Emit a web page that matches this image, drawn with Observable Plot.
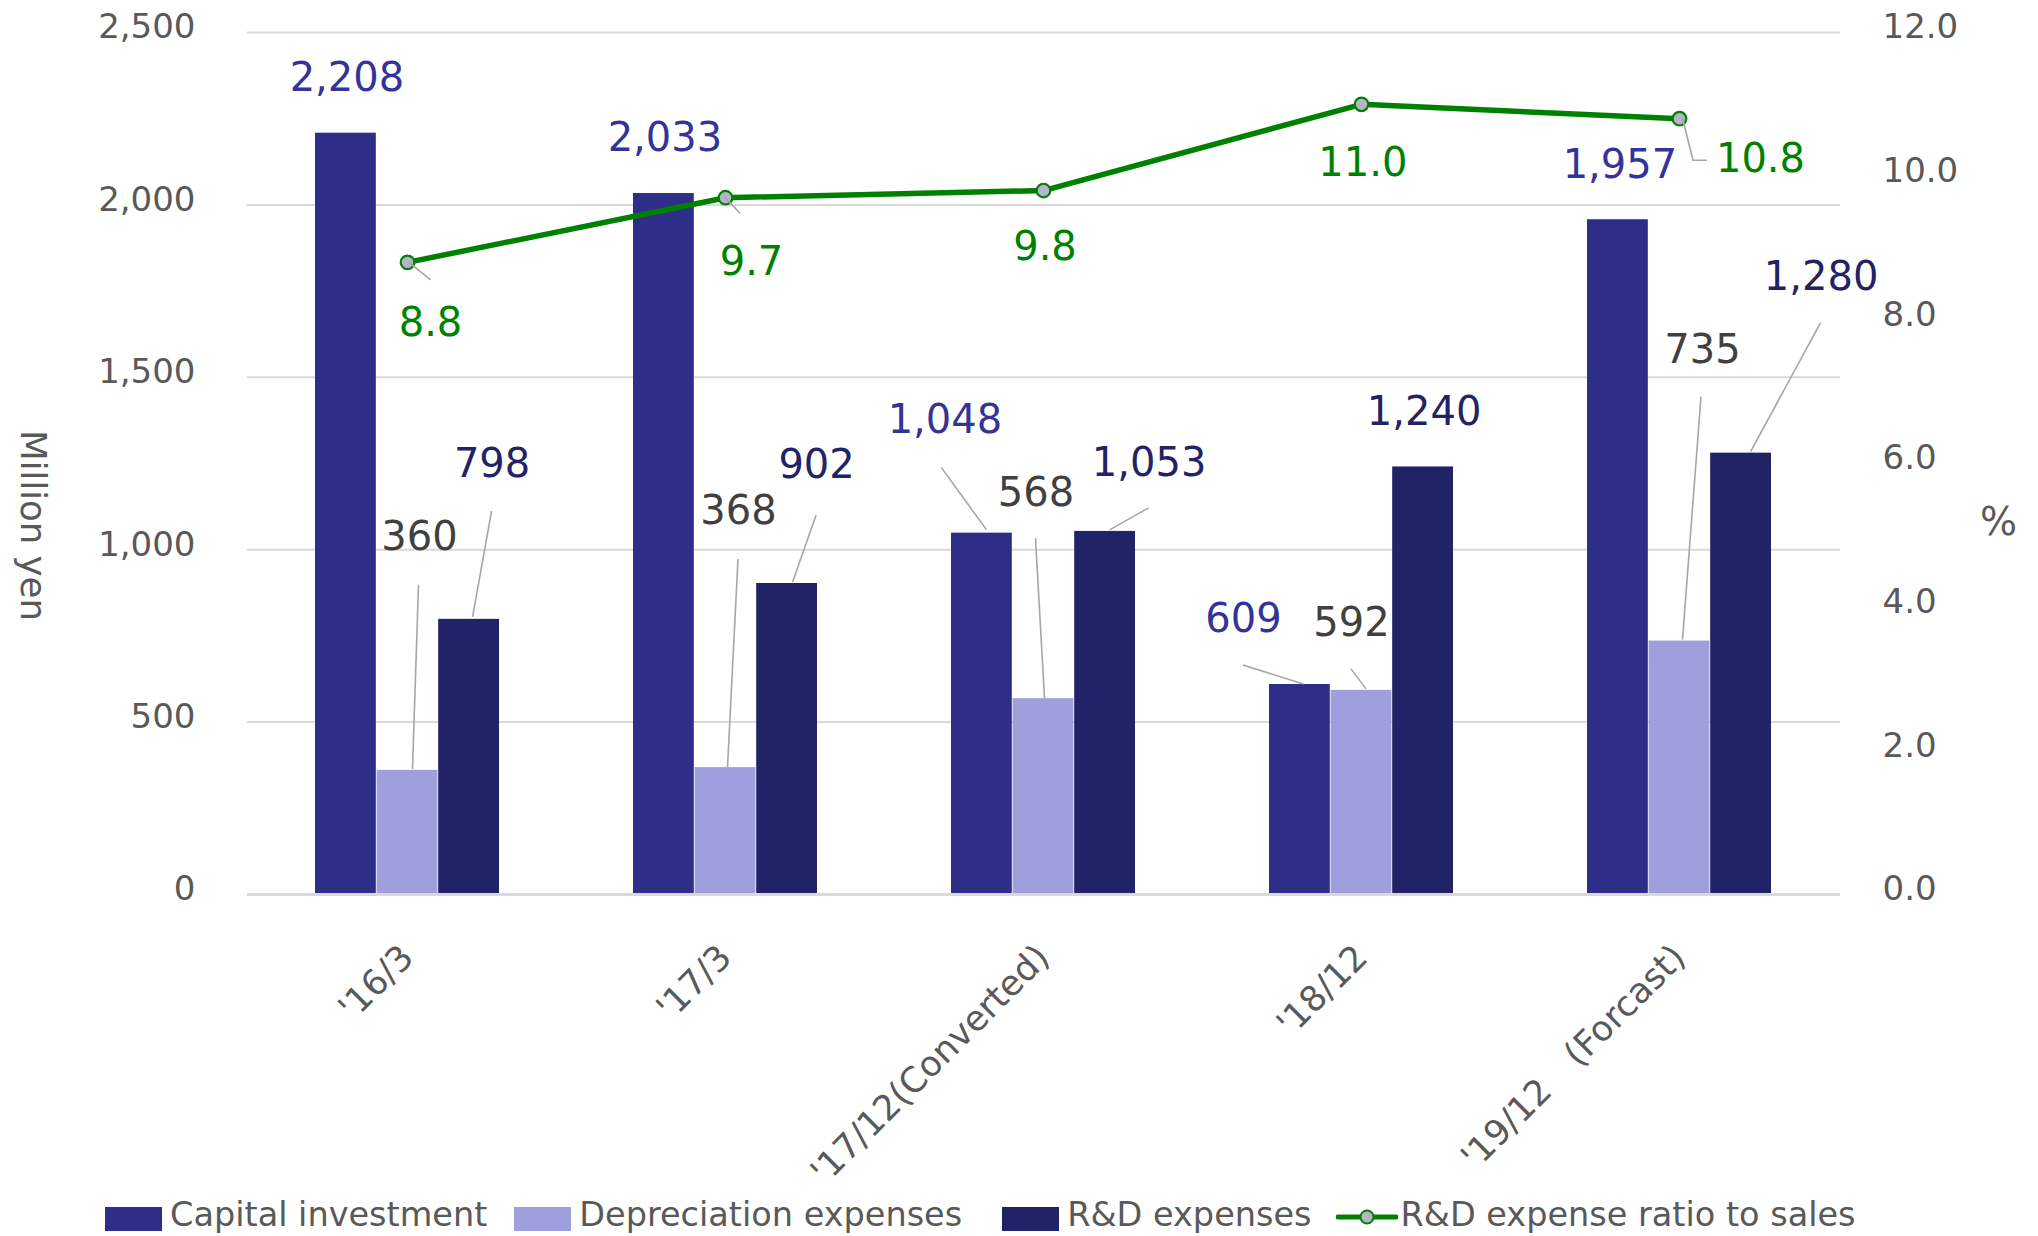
<!DOCTYPE html>
<html>
<head>
<meta charset="utf-8">
<script src="https://cdn.jsdelivr.net/npm/d3@7"></script>
<script src="https://cdn.jsdelivr.net/npm/@observablehq/plot@0.6"></script>
<style>
  html, body { margin: 0; padding: 0; background: #ffffff; }
  body { font-family: "DejaVu Sans", Verdana, sans-serif; }
  #wrap { position: relative; width: 2038px; height: 1236px; overflow: hidden; }
  #chart { position: absolute; left: 0; top: 0; }
  #legend { position: absolute; left: 105px; top: 1196px; height: 38px; display: flex; align-items: center;
            font-size: 33.5px; line-height: 34px; color: #595959; white-space: nowrap; }
  .item { display: flex; align-items: center; }
  .sw { width: 57px; height: 24px; margin-right: 8px; margin-top: 8px; }
  .ln { margin-right: 3px; margin-top: 3px; }
</style>
</head>
<body>
<div id="wrap"><div id="chart"></div><div id="legend"></div></div>
<script>
// ---------- data ----------
const categories = ["'16/3", "'17/3", "'17/12(Converted)", "'18/12", "'19/12\u3000(Forcast)"];
const capitalInvestment = [2208, 2033, 1048, 609, 1957];
const depreciationExpenses = [360, 368, 568, 592, 735];
const rdExpenses = [798, 902, 1053, 1240, 1280];
const rdRatioToSales = [8.8, 9.7, 9.8, 11.0, 10.8];
const leftTicks = [0, 500, 1000, 1500, 2000, 2500];
const rightTicks = [0, 2, 4, 6, 8, 10, 12];
const seriesNames = ["Capital investment", "Depreciation expenses", "R&D expenses", "R&D expense ratio to sales"];

// ---------- styles ----------
const colors = { cap: "#2E2E88", dep: "#9F9FDD", rd: "#222266", line: "#008000", dot: "#B4B4CC" };
const labelColors = { cap: "#333399", dep: "#404040", rd: "#222266", line: "#008000" };
const axisColor = "#595959", gridColor = "#D9D9D9", leaderColor = "#A6A6A6";

// annotation placement (pixel offsets from bar top / point)
const labelOffsets = {
  cap: [[1, -55], [1, -55], [-37, -113], [-56.5, -65], [2, -55]],
  dep: [[12, -233], [13, -256], [-7.5, -205], [-10, -67], [23, -291]],
  rd: [[23, -155], [29.5, -118], [44, -68], [1, -55], [80, -176]],
  line: [[23, 61], [26, 64], [1.5, 57], [1.3, 59], [81, 40]]
};
const leaders = {
  cap: [null, null, [[-40, -65], [5, -3]], [[-56.5, -19], [4, 0]], null],
  dep: [[[11.5, -185], [5.5, -1]], [[13, -208], [2.5, 0]], [[-7.5, -160], [1.5, 0]], [[-10, -21], [5, -1]], [[22, -244], [3.5, -1]]],
  rd: [[[23, -108], [4, -2]], [[29.5, -68], [6, -1]], [[44, -23], [5, -1]], null, [[80, -130], [10, -1]]],
  line: [[[1.5, 0], [23.5, 18]], [[0, 0], [15, 16]], null, null, [[3.5, 0], [14, 42], [28, 42]]]
};

// ---------- layout ----------
const W = 2038, H = 1190;
const mL = 247, mR = 198, mT = 32, mB = H - 894;
const padIn = 0.42, padOut = 0.21;
const step = (W - mL - mR) / (categories.length - padIn + 2 * padOut);
const third = step * (1 - padIn) / 3;

const rows = categories.map((c, i) => ({
  cat: c, cap: capitalInvestment[i], dep: depreciationExpenses[i], rd: rdExpenses[i], ratio: rdRatioToSales[i], i
}));
const y2 = d3.scaleLinear([0, 12], [0, 2500]);   // secondary axis mapped onto primary
const fmtInt = d3.format(",");
const fmtPct = d => d.toFixed(1);

const shifts = { cap: -1, dep: 0, rd: 1 };
const marks = [
  Plot.gridY(leftTicks, { stroke: gridColor, strokeWidth: 2, strokeOpacity: 1 }),
  Plot.barY(rows, { x: "cat", y: "cap", fill: colors.cap, insetRight: 2 * third }),
  Plot.barY(rows, { x: "cat", y: "dep", fill: colors.dep, insetLeft: third, insetRight: third }),
  Plot.barY(rows, { x: "cat", y: "rd", fill: colors.rd, insetLeft: 2 * third }),
  Plot.ruleY([0], { stroke: gridColor, strokeWidth: 3 }),
  Plot.line(rows, { x: "cat", y: d => y2(d.ratio), stroke: colors.line, strokeWidth: 5.5 }),
  Plot.dot(rows, { x: "cat", y: d => y2(d.ratio), r: 6.8, fill: colors.dot, stroke: colors.line, strokeWidth: 2.2 }),
  Plot.axisY(leftTicks, { anchor: "left", tickSize: 0, tickPadding: 52, fontSize: 34, color: axisColor,
    tickFormat: fmtInt, label: null, dy: -5 }),
  Plot.axisY(rightTicks, { anchor: "right", y: y2, tickSize: 0, tickPadding: 42, fontSize: 34, color: axisColor,
    tickFormat: fmtPct, label: null, dy: -5 }),
  Plot.axisX({ tickRotate: -45, tickSize: 0, tickPadding: 57, fontSize: 35, color: axisColor, label: null }),
  Plot.text(["Million yen"], { frameAnchor: "left", textAnchor: "middle", dx: -215, dy: 62, rotate: 90,
    fontSize: 35.5, fill: axisColor }),
  Plot.text(["%"], { frameAnchor: "right", textAnchor: "middle", dx: 158, dy: 59, fontSize: 39, fill: axisColor })
];

// value labels
for (const key of ["cap", "dep", "rd"]) {
  rows.forEach((r, i) => {
    const [ox, oy] = labelOffsets[key][i];
    marks.push(Plot.text([r], { x: "cat", y: key, text: d => fmtInt(d[key]), dx: shifts[key] * third + ox, dy: oy,
      fontSize: 40, fill: labelColors[key] }));
  });
}
rows.forEach((r, i) => {
  const [ox, oy] = labelOffsets.line[i];
  marks.push(Plot.text([r], { x: "cat", y: d => y2(d.ratio), text: d => fmtPct(d.ratio), dx: ox, dy: oy,
    fontSize: 40, fill: labelColors.line }));
});

const chart = Plot.plot({
  width: W, height: H,
  marginLeft: mL, marginRight: mR, marginTop: mT, marginBottom: mB,
  x: { type: "band", domain: categories, paddingInner: padIn, paddingOuter: padOut },
  y: { domain: [0, 2500], nice: false },
  style: { fontFamily: "'DejaVu Sans', Verdana, sans-serif", background: "#ffffff", overflow: "visible" },
  marks
});
document.getElementById("chart").appendChild(chart);

// leader lines positioned through the chart's own scales
const sx = chart.scale("x"), sy = chart.scale("y");
const bx = c => sx.apply(c) + sx.bandwidth / 2;
const g = d3.select(chart).append("g").attr("fill", "none").attr("stroke", leaderColor).attr("stroke-width", 1.6);
for (const key of ["cap", "dep", "rd", "line"]) {
  rows.forEach((r, i) => {
    const pts = leaders[key][i];
    if (!pts) return;
    const ax = bx(r.cat) + (key === "line" ? 0 : shifts[key] * third);
    const ay = sy.apply(key === "line" ? y2(r.ratio) : r[key]);
    g.append("path").attr("d", d3.line()(pts.map(([px, py]) => [ax + px, ay + py])));
  });
}

// legend
const legend = d3.select("#legend");
const gaps = [27, 40, 24];
[["cap", seriesNames[0]], ["dep", seriesNames[1]], ["rd", seriesNames[2]]].forEach(([k, name], j) => {
  const it = legend.append("div").attr("class", "item").style("margin-right", gaps[j] + "px");
  it.append("div").attr("class", "sw").style("background", colors[k]);
  it.append("span").text(name);
});
const li = legend.append("div").attr("class", "item");
const ls = li.append("svg").attr("class", "ln").attr("width", 62).attr("height", 20);
ls.append("line").attr("x1", 2).attr("x2", 60).attr("y1", 10).attr("y2", 10)
  .attr("stroke", colors.line).attr("stroke-width", 5).attr("stroke-linecap", "round");
ls.append("circle").attr("cx", 31).attr("cy", 10).attr("r", 6.5).attr("fill", colors.dot)
  .attr("stroke", colors.line).attr("stroke-width", 2);
li.append("span").text(seriesNames[3]);
</script>
</body>
</html>
